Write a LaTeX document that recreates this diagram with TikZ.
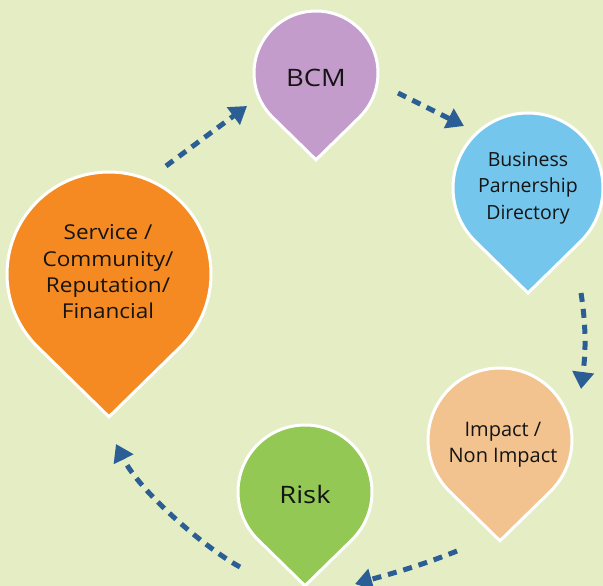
\documentclass[tikz,border=0pt]{standalone}
\usepackage{fontspec}
\setmainfont{Open Sans}
\newfontfamily\widefont[FakeStretch=1.1]{Open Sans}
\newfontfamily\widerfont[FakeStretch=1.14]{Open Sans}
\usetikzlibrary{arrows.meta,calc}
\definecolor{bg}{HTML}{E5EDC5}
\definecolor{cbcm}{HTML}{C39CCB}
\definecolor{cbiz}{HTML}{74C6EC}
\definecolor{csvc}{HTML}{F58A23}
\definecolor{cimp}{HTML}{F2C38F}
\definecolor{crisk}{HTML}{92C853}
\definecolor{carrow}{HTML}{2A5E94}
\newcommand\pinshape[4]{% center, radius, colour
  \fill[#4,draw=white,line width=3pt]
    ($(#1,#2)+(0,1.4*#3)$) -- ($(#1,#2)+(134.4:#3)$)
    arc[start angle=134.4,end angle=405.6,radius=#3] -- cycle;}
\begin{document}
\begin{tikzpicture}[x=1pt,y=-1pt,
  lbl/.style={align=center,text=black!92,font=\fontsize{19.5}{26.5}\selectfont},
  widelbl/.style={lbl,font=\widefont\fontsize{20.5}{26.3}\selectfont},
  biglbl/.style={lbl,font=\widerfont\fontsize{24}{28}\selectfont},
  flow/.style={carrow,line width=5pt,dash pattern=on 9pt off 7pt,
    -{Triangle[length=17pt,width=21pt]}}]
\fill[bg] (0,0) rectangle (603,586);
\useasboundingbox (0,0) rectangle (603,586);
\pinshape{316}{73}{62}{cbcm}
\pinshape{528}{188}{75}{cbiz}
\pinshape{109}{274}{102}{csvc}
\pinshape{500}{440}{72}{cimp}
\pinshape{305}{492}{67}{crisk}
\node[biglbl] (bcm) at (316,78) {BCM};
\node[lbl] (biz) at (528,188) {Business\\Parnership\\Directory};
\node[widelbl] (svc) at (108,272) {Service /\\Community/\\Reputation/\\Financial};
\node[lbl,font=\fontsize{20}{26.5}\selectfont] (imp) at (503,445) {Impact /\\Non Impact};
\node[biglbl] (risk) at (305,494) {Risk};
\coordinate (s1) at (166,166); \coordinate (e1) at (247,106);
\coordinate (s2) at (398,93);  \coordinate (e2) at (464,126);
\coordinate (s3) at (581,293); \coordinate (e3) at (581,389);
\coordinate (s4) at (457,551); \coordinate (e4) at (355,584);
\coordinate (s5) at (240,567); \coordinate (e5) at (116,444);
\draw[flow] (s1) -- (e1);
\draw[flow] (s2) -- (e2);
\draw[flow] (s3) .. controls (586,325) and (586,350) .. (e3);
\draw[flow] (s4) .. controls (420,566) and (390,574) .. (e4);
\draw[flow] (s5) .. controls (205,548) and (140,492) .. (e5);
\end{tikzpicture}
\end{document}
